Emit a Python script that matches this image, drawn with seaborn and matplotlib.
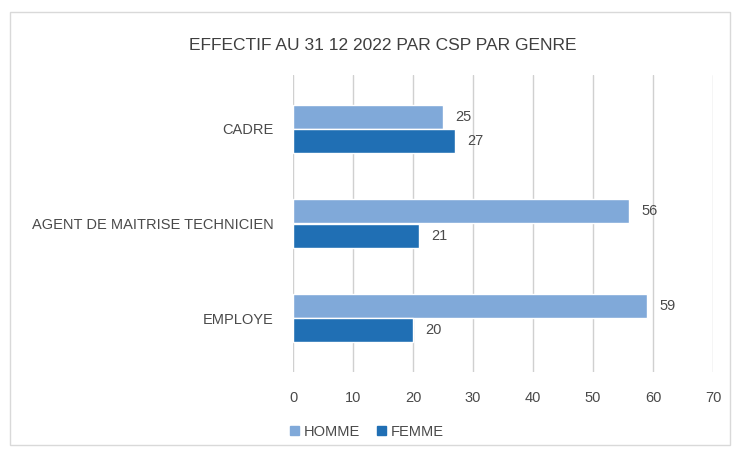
import matplotlib
matplotlib.use("Agg")
import matplotlib.pyplot as plt
import seaborn as sns
import pandas as pd
from matplotlib.patches import Rectangle

categories = ["CADRE", "AGENT DE MAITRISE TECHNICIEN", "EMPLOYE"]
homme = [25, 56, 59]
femme = [27, 21, 20]
series = ["HOMME", "FEMME"]
x_ticks = [0, 10, 20, 30, 40, 50, 60, 70]

df = pd.DataFrame({
    "csp": categories * 2,
    "genre": [series[0]] * 3 + [series[1]] * 3,
    "effectif": homme + femme,
})

sns.set_theme(style="white")
plt.rcParams["font.family"] = ["Liberation Sans Narrow", "Liberation Sans", "DejaVu Sans"]

colors = {"HOMME": "#80A9D9", "FEMME": "#206FB4"}
text_color = "#4a4a4a"

fig = plt.figure(figsize=(7.37, 4.53), dpi=100)
ax = fig.add_axes([293 / 737, 1 - 372 / 453, 420 / 737, 297 / 453])

sns.barplot(data=df, y="csp", x="effectif", hue="genre", order=categories,
            hue_order=series, palette=colors, width=0.51, orient="h",
            ax=ax, legend=False, saturation=1)

for cont in ax.containers:
    ax.bar_label(cont, padding=9, fontsize=10.5, color=text_color)

ax.set_xlim(0, 70)
ax.set_ylim(2.571, -0.571)
ax.set_xticks(x_ticks)
ax.set_xticklabels([str(t) for t in x_ticks])
ax.xaxis.grid(True, color="#d0d0d0", linewidth=1)
ax.set_axisbelow(True)
for s in ax.spines.values():
    s.set_visible(False)
ax.tick_params(axis="x", length=0, pad=14, labelsize=10.5, colors=text_color)
ax.tick_params(axis="y", length=0, pad=14, labelsize=10.5, colors=text_color)
ax.set_xlabel("")
ax.set_ylabel("")

fig.text(383 / 737, 1 - 45 / 453, "EFFECTIF AU 31 12 2022 PAR CSP PAR GENRE",
         ha="center", va="center", fontsize=12.5, color="#3f3f3f")

handles = [Rectangle((0, 0), 1, 1, color=colors[s]) for s in series]
fig.legend(handles, series, loc="center", bbox_to_anchor=(367 / 737, 1 - 432 / 453),
           ncol=2, frameon=False, fontsize=10.5, handlelength=0.6, handleheight=0.6,
           handletextpad=0.3, columnspacing=1.2, labelcolor=text_color)

fig.patches.append(Rectangle((10 / 737, 1 - 445 / 453), 720 / 737, 433 / 453,
                             transform=fig.transFigure, fill=False,
                             edgecolor="#d9d9d9", linewidth=1))

fig.savefig("out.png", dpi=100, facecolor="white")
